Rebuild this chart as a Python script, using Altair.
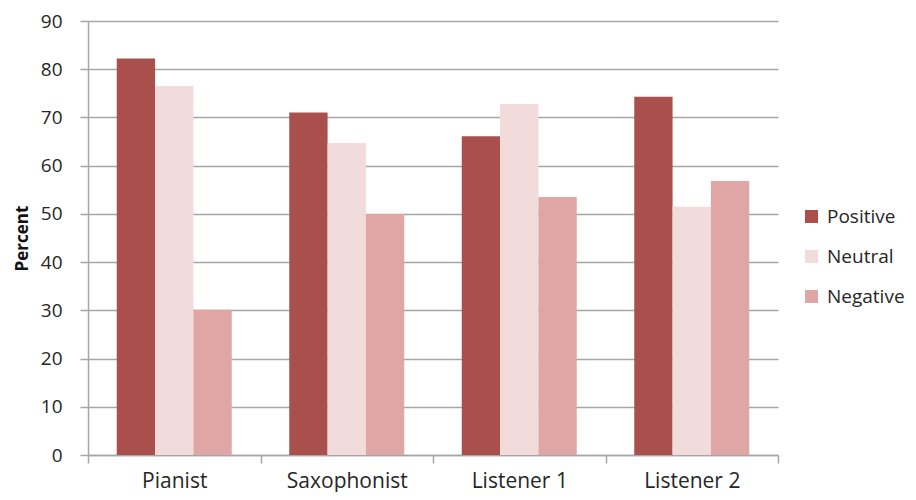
import altair as alt
import pandas as pd

categories = ["Pianist", "Saxophonist", "Listener 1", "Listener 2"]
series = ["Positive", "Neutral", "Negative"]
positive = [82.2, 71.0, 66.1, 74.3]
neutral = [76.5, 64.7, 72.8, 51.5]
negative = [30.1, 50.0, 53.5, 56.8]
colors = ["#A9504C", "#F2DCDB", "#E0A6A5"]
y_ticks = [0, 10, 20, 30, 40, 50, 60, 70, 80, 90]

rows = []
for i, c in enumerate(categories):
    for s, vals in zip(series, [positive, neutral, negative]):
        rows.append({"Category": c, "Series": s, "Value": vals[i]})
df = pd.DataFrame(rows)

FONT = "Open Sans"
TXT = "#262626"

chart = alt.Chart(df).mark_bar().encode(
    x=alt.X("Category:N", sort=categories,
            scale=alt.Scale(paddingInner=0, paddingOuter=0),
            axis=alt.Axis(title=None, labelAngle=0, tickBand="extent",
                          grid=False, domainColor="#A6A6A6", tickColor="#A6A6A6",
                          domainWidth=1.5, tickWidth=1.5, tickSize=8,
                          labelFontSize=21, labelColor=TXT, labelFont=FONT,
                          labelBaseline="alphabetic", labelPadding=24)),
    xOffset=alt.XOffset("Series:N", sort=series,
                        scale=alt.Scale(paddingInner=0, paddingOuter=0.75)),
    y=alt.Y("Value:Q", scale=alt.Scale(domain=[0, 90], nice=False),
            axis=alt.Axis(title="Percent", values=y_ticks, grid=True,
                          gridColor="#A6A6A6", gridWidth=1.5,
                          domainColor="#A6A6A6", tickColor="#A6A6A6",
                          domainWidth=1.5, tickWidth=1.5, tickSize=8,
                          labelFontSize=19, labelColor=TXT, labelFont=FONT,
                          labelPadding=18, titleFont=FONT, titleFontSize=17,
                          titleFontWeight="bold", titleColor="#111111",
                          titlePadding=9)),
    color=alt.Color("Series:N", sort=series,
                    scale=alt.Scale(domain=series, range=colors),
                    legend=alt.Legend(title=None, orient="none", legendX=714,
                                      legendY=186, padding=0, symbolType="square",
                                      symbolSize=169, symbolStrokeWidth=0,
                                      labelFontSize=19, labelFont=FONT,
                                      labelColor=TXT, rowPadding=20,
                                      labelOffset=6)),
).properties(
    width=690, height=434,
    autosize=alt.AutoSizeParams(type="none"),
    padding={"left": 80, "top": 13, "right": 130, "bottom": 37},
).configure_view(stroke=None)

chart.save("out.html", embed_options={"renderer": "svg", "actions": False})
